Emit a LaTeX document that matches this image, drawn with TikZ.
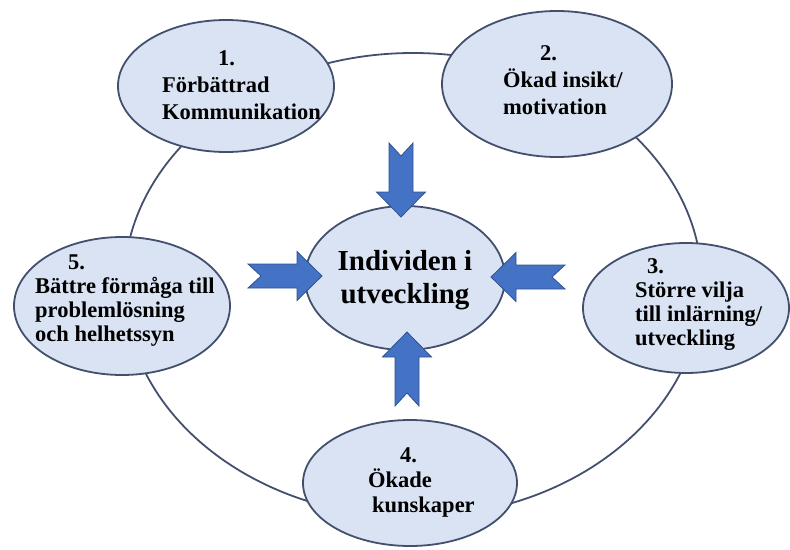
\documentclass[tikz,border=0pt]{standalone}
\usepackage{fontspec}
\setmainfont{Liberation Serif}
\usetikzlibrary{shapes.geometric}
\definecolor{ringline}{RGB}{66,80,110}
\definecolor{bubblefill}{RGB}{218,227,243}
\definecolor{pilblue}{RGB}{68,114,196}
\definecolor{piledge}{RGB}{47,82,143}

\begin{document}
\begin{tikzpicture}[x=1pt,y=-1pt,
  bubble/.style={ellipse,draw=ringline,line width=1.8pt,fill=bubblefill,inner sep=0pt},
  txt/.style={align=left,inner sep=0pt,anchor=north west},
  pil/.style={fill=pilblue,draw=piledge,line width=0.8pt,line join=miter}]
  \def\pil{+(0,12) -- +(49,12) -- +(49,24.5) -- +(74,0) -- +(49,-24.5)
    -- +(49,-12) -- +(0,-12) -- +(13,0) -- cycle}
  \useasboundingbox (0,0) rectangle (790,549);
  \draw[ringline,line width=1.8pt] (413,285) ellipse [x radius=289, y radius=232];

  \node[bubble,minimum width=216pt,minimum height=132pt] (b1) at (226,86) {};
  \node[bubble,minimum width=230pt,minimum height=146pt] (b2) at (557,84) {};
  \node[bubble,minimum width=206pt,minimum height=130pt] (b3) at (686,308) {};
  \node[bubble,minimum width=214pt,minimum height=126pt] (b4) at (410,483) {};
  \node[bubble,minimum width=216pt,minimum height=138pt] (b5) at (122,306) {};
  \node[bubble,minimum width=200pt,minimum height=144pt] (mid) at (405,278) {};

  \node[txt,font=\fontsize{22.5}{27}\selectfont\bfseries] (t1) at (162,50)
    {\hspace*{56pt}1.\\Förbättrad\\Kommunikation};
  \node[txt,font=\fontsize{22.5}{27}\selectfont\bfseries] (t2) at (503,45)
    {\hspace*{37pt}2.\\Ökad insikt/\\motivation};
  \node[txt,font=\fontsize{22.5}{24}\selectfont\bfseries] (t3) at (635,258)
    {\hspace*{12pt}3.\\Större vilja\\till inlärning/\\utveckling};
  \node[txt,font=\fontsize{22.5}{25}\selectfont\bfseries] (t4) at (368,447)
    {\hspace*{32pt}4.\\Ökade\\\hspace*{4pt}kunskaper};
  \node[txt,font=\fontsize{22.5}{24}\selectfont\bfseries] (t5) at (35,255)
    {\hspace*{33pt}5.\\Bättre förmåga till\\problemlösning\\och helhetssyn};
  \node[align=center,inner sep=0pt,anchor=north,font=\fontsize{29}{33}\selectfont\bfseries]
    (tmid) at (405,250) {Individen i\\utveckling};

  \filldraw[pil,shift={(401,143)},rotate=-90] (0,0) \pil;
  \filldraw[pil,shift={(407,406)},rotate=90] (0,0) \pil;
  \filldraw[pil,shift={(248,276)}] (0,0) \pil;
  \filldraw[pil,shift={(565,277)},rotate=180] (0,0) \pil;
\end{tikzpicture}
\end{document}
